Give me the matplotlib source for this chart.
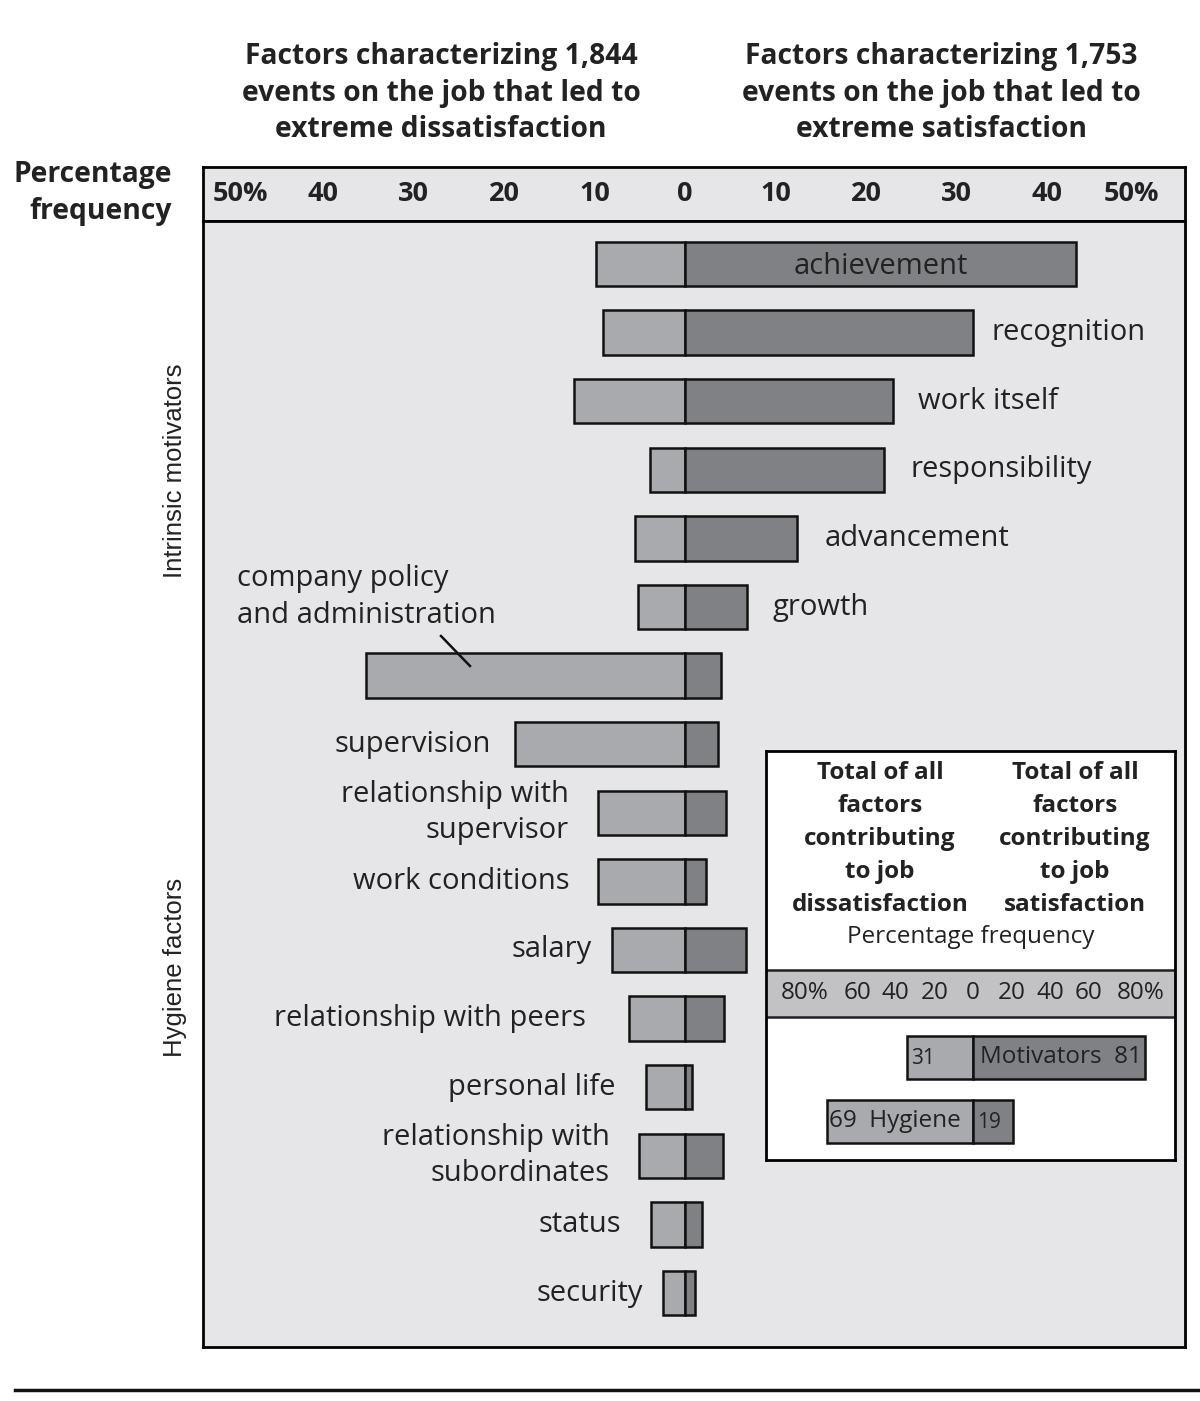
import matplotlib
matplotlib.use("Agg")
import matplotlib.pyplot as plt

plt.rcParams['font.family'] = ['Open Sans', 'DejaVu Sans']

W, H = 1200, 1401
LIGHT = "#a9aaad"
DARK = "#808184"
BG = "#e6e6e8"

factors = ["achievement", "recognition", "work itself", "responsibility",
           "advancement", "growth", "company policy\nand administration",
           "supervision", "relationship with\nsupervisor", "work conditions",
           "salary", "relationship with peers", "personal life",
           "relationship with\nsubordinates", "status", "security"]
dissat = [9.8, 9.1, 12.3, 3.9, 5.5, 5.2, 35.2, 18.8, 9.6, 9.6, 8.1, 6.2, 4.3, 5.1, 3.8, 2.4]
sat = [43.2, 31.8, 23.0, 22.0, 12.4, 6.9, 4.0, 3.6, 4.5, 2.3, 6.7, 4.3, 0.8, 4.2, 1.9, 1.1]
n_motiv = 6
ticks = [-50, -40, -30, -20, -10, 0, 10, 20, 30, 40, 50]

groups = ["Motivators", "Hygiene"]
tot_dissat = [31, 69]
tot_sat = [81, 19]
inset_ticks = [-80, -60, -40, -20, 0, 20, 40, 60, 80]

fig = plt.figure(figsize=(12, 14.01), dpi=100)


def px_axes(x0, y0, x1, y1):
    return fig.add_axes([x0 / W, 1 - y1 / H, (x1 - x0) / W, (y1 - y0) / H])


def ftext(x, y, s, **kw):
    fig.text(x / W, 1 - y / H, s, **kw)


# scale: zero at x=685px, 9.05 px per percent
xlim = ((203 - 685) / 9.05, (1185 - 685) / 9.05)

# header band with tick labels
hax = px_axes(203, 167, 1185, 221)
hax.set_facecolor(BG)
hax.set_xlim(xlim)
hax.set_ylim(0, 1)
hax.set_xticks([])
hax.set_yticks([])
for sp in hax.spines.values():
    sp.set_linewidth(2)
for t in ticks:
    lab = f"{abs(t)}%" if abs(t) == 50 else str(abs(t))
    xt = t + (0.9 if t == -50 else -0.7 if t == 50 else 0)
    hax.text(xt, 0.5, lab, ha="center", va="center", fontsize=19.5, fontweight="bold", color="#222")

# main bar area
ax = px_axes(203, 221, 1185, 1347)
ax.set_facecolor(BG)
ax.set_xlim(xlim)
ax.set_ylim((1347 - 264) / 68.6, (221 - 264) / 68.6)
ax.set_xticks([])
ax.set_yticks([])
for sp in ax.spines.values():
    sp.set_linewidth(2)

ypos = list(range(len(factors)))
bh = 0.65
ax.barh(ypos, [-d for d in dissat], height=bh, color=LIGHT, edgecolor="#111", linewidth=1.8)
ax.barh(ypos, sat, height=bh, color=DARK, edgecolor="#111", linewidth=1.8)

lab_fs = 21
lab_kw = dict(fontsize=lab_fs, color="#222", fontweight="medium", linespacing=1.32)
gaps = [0, 19, 25, 26, 27, 25, 0, 24, 29, 29, 20, 43, 31, 29, 30, 20]
for i, name in enumerate(factors):
    if i == 0:
        ax.text(sat[i] / 2, i + 0.04, name, ha="center", va="center", **lab_kw)
    elif i < n_motiv:
        ax.annotate(name, (sat[i], i), xytext=(gaps[i] * 0.72, 0), textcoords="offset points",
                    ha="left", va="center", **lab_kw)
    elif i == n_motiv:
        ax.annotate(name, (-dissat[i], i), xytext=(237, H - 597), textcoords="figure pixels",
                    ha="left", va="center", **lab_kw)
    else:
        ax.annotate(name, (-dissat[i], i), xytext=(-gaps[i] * 0.72, 0), textcoords="offset points",
                    ha="right", va="center", **lab_kw)

# leader line for company policy
fig.add_artist(plt.Line2D([441 / W, 470 / W], [1 - 636 / H, 1 - 666 / H], color="#111", lw=1.8))

# titles
ftext(441, 93, "Factors characterizing 1,844\nevents on the job that led to\nextreme dissatisfaction",
      ha="center", va="center", fontsize=20.3, fontweight="bold", color="#222", linespacing=1.34)
ftext(941, 93, "Factors characterizing 1,753\nevents on the job that led to\nextreme satisfaction",
      ha="center", va="center", fontsize=20.3, fontweight="bold", color="#222", linespacing=1.34)
ftext(172, 193, "Percentage\nfrequency", ha="right", va="center", fontsize=20.3,
      fontweight="bold", color="#222", linespacing=1.34)

# side group labels
ftext(175, 471, "Intrinsic motivators", ha="center", va="center", rotation=90,
      fontsize=18.5, family=["Liberation Sans", "DejaVu Sans"], color="#222")
ftext(175, 967, "Hygiene factors", ha="center", va="center", rotation=90,
      fontsize=18.5, family=["Liberation Sans", "DejaVu Sans"], color="#222")

# inset: totals
iax = px_axes(766, 751, 1175, 1160)
iax.set_facecolor("white")
ixlim = ((766 - 973) / 2.12, (1175 - 973) / 2.12)
iax.set_xlim(ixlim)
iax.set_ylim(1160, 751)
iax.set_xticks([])
iax.set_yticks([])
for sp in iax.spines.values():
    sp.set_linewidth(2)
iax.axhspan(970, 1017, color="#c2c2c4", zorder=0)
iax.axhline(970, color="#222", lw=1.8)
iax.axhline(1017, color="#222", lw=1.8)
for t in inset_ticks:
    if abs(t) == 80:
        lab, xt = f"{abs(t)}%", t * 0.99
    else:
        lab, xt = str(abs(t)), t * 0.91
    iax.text(xt, 993, lab, ha="center", va="center", fontsize=17.5, color="#222")

hdr = "Total of all\nfactors\ncontributing\nto job\n"
iax.text((880 - 973) / 2.12, 839, hdr + "dissatisfaction", ha="center", va="center",
         fontsize=17.5, fontweight="bold", color="#222", linespacing=1.5)
iax.text((1075 - 973) / 2.12, 839, hdr + "satisfaction", ha="center", va="center",
         fontsize=17.5, fontweight="bold", color="#222", linespacing=1.5)
iax.text((971 - 973) / 2.12, 937, "Percentage frequency", ha="center", va="center",
         fontsize=17.5, color="#222")

iy = [1057, 1121]
ih = 43
iax.barh(iy, [-d for d in tot_dissat], height=ih, color=LIGHT, edgecolor="#111", linewidth=1.8)
iax.barh(iy, tot_sat, height=ih, color=DARK, edgecolor="#111", linewidth=1.8)
# Motivators row
iax.text(-tot_dissat[0] + 2, iy[0] + 2, str(tot_dissat[0]), ha="left", va="center", fontsize=15, color="#222")
iax.text(tot_sat[0] - 1.5, iy[0], f"{groups[0]}  {tot_sat[0]}", ha="right", va="center", fontsize=17.5, color="#222")
# Hygiene row
iax.text(-tot_dissat[1] + 1, iy[1], f"{tot_dissat[1]}  {groups[1]}", ha="left", va="center", fontsize=17.5, color="#222")
iax.text(2, iy[1] + 1, str(tot_sat[1]), ha="left", va="center", fontsize=15, color="#222")

# bottom rule
fig.add_artist(plt.Line2D([15 / W, 1200 / W], [1 - 1390 / H, 1 - 1390 / H], color="#111", lw=2.5))

fig.savefig("out.png", dpi=100, facecolor="white")
